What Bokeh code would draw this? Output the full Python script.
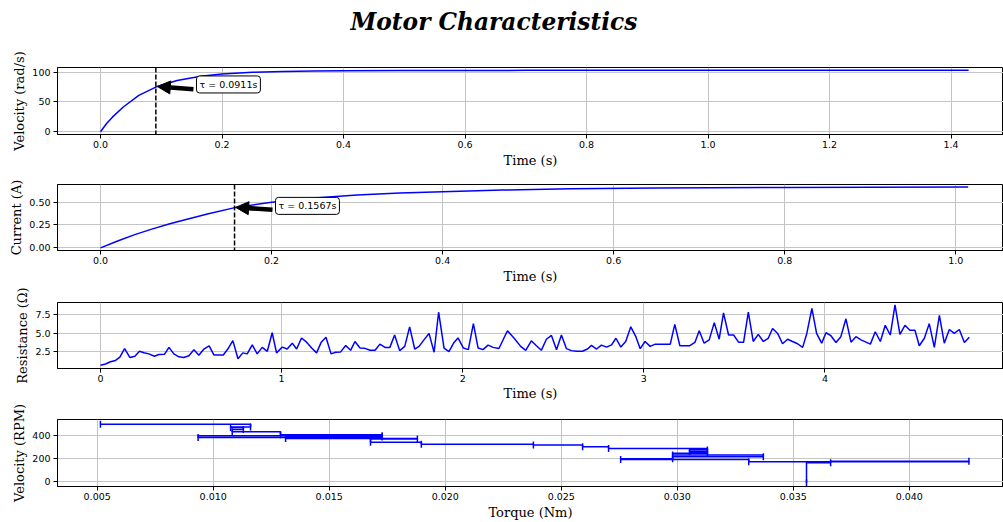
import math
from bokeh.plotting import figure
from bokeh.layouts import column
from bokeh.models import (Span, Arrow, NormalHead, Label, FixedTicker,
                          NumeralTickFormatter, Range1d)
from bokeh.embed import file_html
from bokeh.resources import INLINE

# ---------------- data ----------------
vel_time = [0, 0.01, 0.02, 0.038, 0.063, 0.091, 0.126, 0.165, 0.2, 0.25,
            0.3, 0.35, 0.4, 0.5, 0.7, 0.9, 1.1, 1.3, 1.429]
vel_rad = [0, 14, 25, 42, 61, 75, 86, 93, 97, 99.8,
           101.2, 101.9, 102.4, 102.8, 103, 103, 103, 103, 103]
tau_vel = 0.0911

cur_time = [0, 0.02, 0.04, 0.06, 0.08, 0.1, 0.125, 0.157, 0.2, 0.25,
            0.3, 0.35, 0.4, 0.47, 0.55, 0.65, 0.8, 0.9, 1.0145]
cur_amp = [0, 0.075, 0.145, 0.205, 0.26, 0.31, 0.37, 0.44, 0.5, 0.545,
           0.578, 0.6, 0.615, 0.632, 0.647, 0.655, 0.661, 0.663, 0.665]
tau_cur = 0.1567

res_time = [0, 0.028, 0.055, 0.083, 0.107, 0.133, 0.162, 0.19, 0.215, 0.24,
            0.267, 0.298, 0.322, 0.354, 0.378, 0.405, 0.433, 0.46, 0.488, 0.516,
            0.543, 0.571, 0.6, 0.626, 0.654, 0.678, 0.703, 0.731, 0.759, 0.786,
            0.81, 0.838, 0.865, 0.893, 0.921, 0.948, 0.972, 1.004, 1.031, 1.059,
            1.083, 1.11, 1.138, 1.166, 1.193, 1.219, 1.245, 1.273, 1.298, 1.326,
            1.354, 1.381, 1.405, 1.433, 1.46, 1.488, 1.516, 1.543, 1.571, 1.598,
            1.624, 1.652, 1.68, 1.707, 1.735, 1.759, 1.786, 1.814, 1.842, 1.867,
            1.897, 1.924, 1.952, 1.974, 2.004, 2.031, 2.059, 2.085, 2.112, 2.14,
            2.168, 2.2, 2.247, 2.284, 2.32, 2.348, 2.379, 2.407, 2.434, 2.462,
            2.49, 2.518, 2.545, 2.573, 2.6, 2.63, 2.661, 2.689, 2.711, 2.739,
            2.766, 2.794, 2.822, 2.846, 2.873, 2.9, 2.928, 2.956, 2.98, 3.007,
            3.035, 3.063, 3.094, 3.122, 3.146, 3.171, 3.199, 3.227, 3.254, 3.282,
            3.306, 3.333, 3.361, 3.389, 3.416, 3.44, 3.468, 3.496, 3.523, 3.551,
            3.577, 3.604, 3.632, 3.66, 3.687, 3.711, 3.739, 3.766, 3.794, 3.821,
            3.849, 3.877, 3.9, 3.928, 3.954, 3.982, 4.006, 4.033, 4.061, 4.088,
            4.116, 4.144, 4.171, 4.199, 4.227, 4.251, 4.278, 4.306, 4.333, 4.361,
            4.387, 4.414, 4.442, 4.469, 4.497, 4.521, 4.549, 4.576, 4.604, 4.632,
            4.659, 4.687, 4.714, 4.742, 4.77, 4.797]
res_ohm = [0.73, 0.9, 1.2, 1.37, 1.8, 2.93, 1.76, 1.93, 2.58, 2.4,
           2.24, 1.93, 2.15, 2.2, 3.1, 2.24, 1.85, 1.76, 2.0, 2.8,
           2.06, 2.88, 3.3, 2.1, 2.1, 2.1, 2.88, 4.0, 1.6, 2.37,
           2.24, 3.44, 2.24, 3.1, 2.58, 5.04, 2.37, 3.14, 2.88, 3.66,
           2.88, 4.35, 3.79, 3.01, 2.37, 3.79, 4.44, 2.24, 2.45, 2.5,
           3.36, 2.71, 3.88, 3.01, 2.97, 2.71, 2.71, 3.53, 3.1, 3.1,
           4.74, 2.67, 3.23, 5.82, 2.88, 3.23, 4.09, 4.95, 2.45, 7.76,
           3.01, 2.54, 3.75, 4.35, 3.01, 2.8, 6.25, 3.01, 2.8, 3.4,
           3.1, 2.95, 5.3, 4.31, 3.23, 2.71, 3.97, 3.32, 2.71, 4.18,
           4.69, 2.8, 4.74, 2.93, 2.67, 2.58, 2.58, 2.88, 3.36, 2.88,
           3.4, 3.14, 3.44, 4.31, 3.14, 3.88, 5.82, 4.52, 2.93, 3.88,
           3.23, 3.53, 3.53, 3.53, 3.53, 6.16, 3.32, 3.32, 3.32, 3.75,
           5.3, 3.66, 4.09, 6.38, 4.18, 7.67, 4.74, 4.74, 3.79, 3.79,
           7.76, 3.88, 4.83, 3.88, 4.31, 5.6, 4.95, 3.58, 4.18, 3.88,
           3.58, 3.1, 4.95, 8.27, 4.95, 3.66, 5.04, 4.65, 3.75, 4.52,
           6.89, 3.79, 4.52, 4.09, 3.79, 3.53, 5.17, 3.88, 6.03, 4.74,
           8.75, 4.83, 6.03, 5.38, 5.38, 3.32, 4.31, 6.25, 3.1, 7.33,
           3.66, 5.47, 4.95, 5.47, 3.75, 4.44]

trq_nm = [0.03557, 0.03661, 0.04257, 0.03308, 0.02756, 0.0298, 0.03371, 0.0298,
          0.0313, 0.03053, 0.0313, 0.02704, 0.02592, 0.0238, 0.01897, 0.01678,
          0.0188, 0.01312, 0.01728, 0.00935, 0.01728, 0.0129, 0.01082, 0.0113,
          0.01075, 0.01161, 0.00514]
trq_rpm = [-10, 165, 178, 174, 192, 200, 217, 232,
           247, 261, 276, 290, 304, 319, 326, 343,
           371, 377, 390, 385, 400, 410, 435, 456,
           473, 478, 502]

vel_xticks = [0.0, 0.2, 0.4, 0.6, 0.8, 1.0, 1.2, 1.4]
vel_yticks = [0, 50, 100]
cur_xticks = [0.0, 0.2, 0.4, 0.6, 0.8, 1.0]
cur_yticks = [0.0, 0.25, 0.5]
res_xticks = [0, 1, 2, 3, 4, 5]
res_yticks = [2.5, 5.0, 7.5]
trq_xticks = [0.005, 0.010, 0.015, 0.020, 0.025, 0.030, 0.035, 0.040]
trq_yticks = [0, 200, 400]

title_text = "Motor Characteristics"

# ---------------- styling ----------------
BLUE = "#0000ff"
SERIF = "DejaVu Serif"
SANS = "DejaVu Sans"
W = 1003


def make_fig(height, top, bottom, xr, yr):
    return figure(width=W, height=height, x_range=Range1d(*xr), y_range=Range1d(*yr),
                  output_backend="svg", toolbar_location=None,
                  min_border_left=57, min_border_right=0,
                  min_border_top=top, min_border_bottom=bottom)


def style(p, xticks, yticks, xfmt, yfmt, xlabel, ylabel, xlab_standoff=2):
    xt = FixedTicker(ticks=xticks)
    yt = FixedTicker(ticks=yticks)
    p.xaxis.ticker = xt
    p.yaxis.ticker = yt
    p.xgrid.ticker = xt
    p.ygrid.ticker = yt
    p.xaxis.formatter = NumeralTickFormatter(format=xfmt)
    p.yaxis.formatter = NumeralTickFormatter(format=yfmt)
    for ax in (p.xaxis[0], p.yaxis[0]):
        ax.major_tick_out = 4
        ax.major_tick_in = 0
        ax.minor_tick_out = 0
        ax.minor_tick_in = 0
        ax.major_tick_line_color = "black"
        ax.major_tick_line_width = 1
        ax.axis_line_color = "black"
        ax.major_label_text_font = SANS
        ax.major_label_text_font_size = "9.5px"
        ax.major_label_text_color = "black"
        ax.axis_label_text_font = SERIF
        ax.axis_label_text_font_size = "13px"
        ax.axis_label_text_font_style = "normal"
        ax.axis_label_text_color = "black"
    p.xaxis.major_label_standoff = 2
    p.yaxis.major_label_standoff = 3
    p.xaxis.axis_label_standoff = xlab_standoff
    p.yaxis.axis_label_standoff = 2
    p.xaxis.axis_label = xlabel
    p.yaxis.axis_label = ylabel
    p.grid.grid_line_color = "#c4c4c4"
    p.grid.grid_line_width = 1
    p.outline_line_color = "black"
    p.outline_line_width = 1


def annotate(p, tau, tail, tip, box, text):
    p.add_layout(Span(location=tau, dimension="height", line_color="black",
                      line_dash="5 2", line_width=1.5))
    p.add_layout(Arrow(end=NormalHead(size=13, fill_color="black", line_color="black",
                                      line_width=1),
                       x_start=tail[0], y_start=tail[1], x_end=tip[0], y_end=tip[1],
                       line_color="black", line_width=4.5))
    p.add_layout(Label(x=box[0], y=box[1], text=text, text_font=SANS,
                       text_font_size="9.5px", text_color="black",
                       text_align="left", text_baseline="middle",
                       background_fill_color="white", border_line_color="black",
                       border_line_width=1, padding=3, border_radius=3))


# ---- 0: title strip ----
p0 = figure(width=W, height=40, x_range=Range1d(0, 1), y_range=Range1d(0, 1),
            output_backend="svg", toolbar_location=None,
            x_axis_location=None, y_axis_location=None,
            min_border_left=0, min_border_right=0, min_border_top=39,
            min_border_bottom=0)
p0.grid.visible = False
p0.outline_line_color = None
p0.title.text = title_text
p0.title.text_font = SERIF
p0.title.text_font_style = "bold italic"
p0.title.text_font_size = "23.3px"
p0.title.text_color = "black"
p0.title.align = "left"
p0.title.offset = 293
p0.title.standoff = 10

# ---- 1: velocity vs time ----
p1 = make_fig(134, 27, 40, (-0.0708, 1.4864), (-4.5, 107.8))
p1.line(vel_time, vel_rad, line_color=BLUE, line_width=1.5)
style(p1, vel_xticks, vel_yticks, "0.0", "0", "Time (s)", "Velocity (rad/s)")
annotate(p1, tau_vel, (0.153, 71.5), (0.0935, 76), (0.158, 79.4), "τ = 0.0911s")

# ---- 2: current vs time ----
p2 = make_fig(112, 10, 35, (-0.0503, 1.0558), (-0.029, 0.693))
p2.line(cur_time, cur_amp, line_color=BLUE, line_width=1.5)
style(p2, cur_xticks, cur_yticks, "0.0", "0.00", "Time (s)", "Current (A)")
annotate(p2, tau_cur, (0.2011, 0.418), (0.158, 0.4427), (0.2046, 0.459), "τ = 0.1567s")

# ---- 3: resistance vs time ----
p3 = make_fig(117, 16, 34, (-0.2374, 4.986), (0.30, 9.05))
p3.line(res_time, res_ohm, line_color=BLUE, line_width=1.5)
style(p3, res_xticks, res_yticks, "0", "0.0", "Time (s)", "Resistance (Ω)",
      xlab_standoff=1)

# ---- 4: velocity (rpm) vs torque ----
p4 = make_fig(119, 16, 36, (0.00329, 0.04406), (-43.5, 542.6))
p4.step(trq_nm, trq_rpm, mode="before", line_color=BLUE, line_width=1.5)
p4.scatter(trq_nm, trq_rpm, marker="dash", angle=math.pi / 2, size=7,
           line_color=BLUE, line_width=1.5)
style(p4, trq_xticks, trq_yticks, "0.000", "0", "Torque (Nm)", "Velocity (RPM)")

layout = column(p0, p1, p2, p3, p4)
open("out.html", "w").write(file_html(layout, INLINE))
